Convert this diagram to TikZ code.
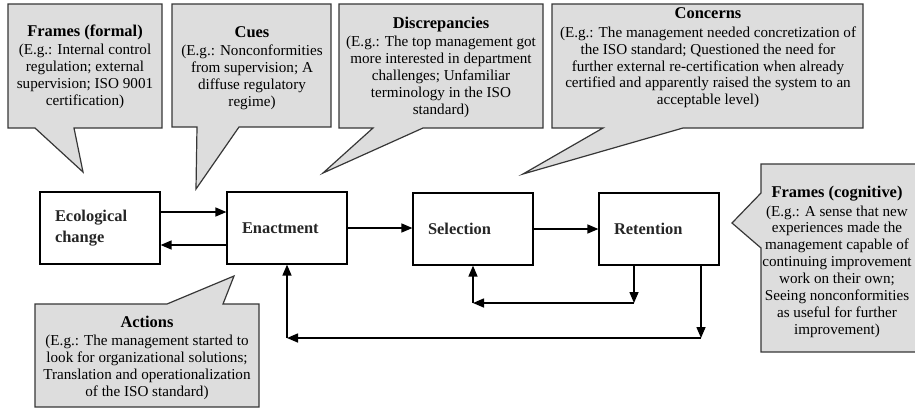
\documentclass[tikz,border=0pt]{standalone}
\usepackage{fontspec}
\setmainfont{Liberation Serif}
\usetikzlibrary{arrows.meta,calc}

\definecolor{callfill}{RGB}{221,221,221}
\definecolor{callline}{RGB}{55,55,55}

\tikzset{
  flowbox/.style={draw, line width=1.2bp, minimum width=120bp, minimum height=72bp,
    text width=90bp, inner xsep=15bp, inner ysep=0bp, align=left,
    text=black!85, font=\fontsize{16.5}{21}\selectfont\bfseries},
  arr/.style={line width=1.5bp, -{Triangle[length=11bp,width=9bp]}},
  callout/.style={draw=callline, fill=callfill, line width=1.2bp, line join=miter},
  calltext/.style={align=center, inner sep=0pt, font=\fontsize{15.2}{17}\selectfont},
}
\newcommand{\ctitle}[1]{{\fontsize{16.5}{17}\selectfont\bfseries #1}\\[1.5bp]}

\begin{document}
\begin{tikzpicture}[x=1bp,y=-1bp]
  \useasboundingbox (0,0) rectangle (915,408);
  \fill[white] (0,0) rectangle (915,408);
  \clip (0,0) rectangle (915,408);

  % speech-bubble shapes
  \draw[callout] (8,4) -- (162,4) -- (162,128) -- (74,128) -- (83,172) -- (35,128) -- (8,128) -- cycle;
  \draw[callout] (172,4) -- (331,4) -- (331,127) -- (239,127) -- (196,189) -- (197,127) -- (172,127) -- cycle;
  \draw[callout] (339,4) -- (543,4) -- (543,128) -- (423,128) -- (323,173) -- (373,128) -- (339,128) -- cycle;
  \draw[callout] (552,4) -- (863,4) -- (863,128) -- (683,128) -- (523,174) -- (603,128) -- (552,128) -- cycle;
  \draw[callout] (35,304) -- (167,304) -- (234,276) -- (223,304) -- (259,304) -- (259,407) -- (35,407) -- cycle;
  \draw[callout] (761,164) -- (940,164) -- (940,352) -- (761,352) -- (761,248) -- (732,223) -- (761,193) -- cycle;

  % bubble texts
  \node[calltext] (framesformal) at (85,67) {\ctitle{Frames (formal)}(E.g.: Internal control\\regulation; external\\supervision; ISO 9001\\certification)};
  \node[calltext] (cues) at (252,68) {\ctitle{Cues}(E.g.: Nonconformities\\from supervision; A\\diffuse regulatory\\regime)};
  \node[calltext] (discrepancies) at (441,67.5) {\ctitle{Discrepancies}(E.g.: The top management got\\more interested in department\\challenges; Unfamiliar\\terminology in the ISO\\standard)};
  \node[calltext] (concerns) at (708,58) {\ctitle{Concerns}(E.g.: The management needed concretization of\\the ISO standard; Questioned the need for\\further external re-certification when already\\certified and apparently raised the system to an\\acceptable level)};
  \node[calltext] (actions) at (147,358) {\ctitle{Actions}(E.g.: The management started to\\look for organizational solutions;\\Translation and operationalization\\of the ISO standard)};
  \node[calltext] (framescog) at (837,262) {\ctitle{Frames (cognitive)}(E.g.: A sense that new\\experiences made the\\management capable of\\continuing improvement\\work on their own;\\Seeing nonconformities\\as useful for further\\improvement)};

  % process boxes
  \node[flowbox] (eco) at (100,228) {Ecological\\change};
  \node[flowbox] (enact) at (287,228) {Enactment};
  \node[flowbox] (sel) at (473,229) {Selection};
  \node[flowbox] (ret) at (659,229) {Retention};

  % forward and backward links
  \draw[arr] ($(eco.east)+(0,-16)$) -- ($(enact.west)+(0,-16)$);
  \draw[arr] ($(enact.west)+(0,17)$) -- ($(eco.east)+(0,17)$);
  \draw[arr] (enact.east) -- (sel.west |- enact.east);
  \draw[arr] (sel.east) -- (ret.west);

  % feedback loops from retention
  \coordinate (k1) at (634,303);
  \coordinate (k2) at (701,338);
  \draw[arr] (ret.south -| k1) -- (k1);
  \draw[arr] (k1) -- (k1 -| sel.south);
  \draw[arr] (k1 -| sel.south) -- (sel.south);
  \draw[arr] (ret.south -| k2) -- (k2);
  \draw[arr] (k2) -- (k2 -| enact.south);
  \draw[arr] (k2 -| enact.south) -- (enact.south);
\end{tikzpicture}
\end{document}
